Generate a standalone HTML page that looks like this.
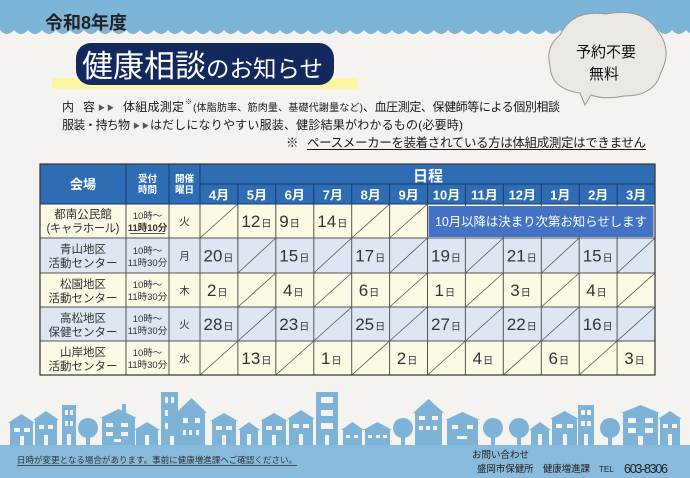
<!DOCTYPE html>
<html><head><meta charset="utf-8"><style>
html,body{margin:0;padding:0;background:#f4f3ef;}
svg{display:block;}
text{font-family:"Liberation Sans","Noto Sans CJK JP",sans-serif;}
</style></head><body>
<svg width="690" height="478" viewBox="0 0 690 478" xmlns="http://www.w3.org/2000/svg">
<rect x="0" y="0" width="690" height="478" fill="#f4f3ef"/>
<path d="M0 0 H690 V30 H0 Z" fill="#7db5d9"/>
<path d="M0 30 Q7 38 14 30 Q21 38 28 30 Q35 38 42 30 Q49 38 56 30 Q63 38 70 30 Q77 38 84 30 Q91 38 98 30 Q105 38 112 30 Q119 38 126 30 Q133 38 140 30 Q147 38 154 30 Q161 38 168 30 Q175 38 182 30 Q189 38 196 30 Q203 38 210 30 Q217 38 224 30 Q231 38 238 30 Q245 38 252 30 Q259 38 266 30 Q273 38 280 30 Q287 38 294 30 Q301 38 308 30 Q315 38 322 30 Q329 38 336 30 Q343 38 350 30 Q357 38 364 30 Q371 38 378 30 Q385 38 392 30 Q399 38 406 30 Q413 38 420 30 Q427 38 434 30 Q441 38 448 30 Q455 38 462 30 Q469 38 476 30 Q483 38 490 30 Q497 38 504 30 Q511 38 518 30 Q525 38 532 30 Q539 38 546 30 Q553 38 560 30 Q567 38 574 30 Q581 38 588 30 Q595 38 602 30 Q609 38 616 30 Q623 38 630 30 Q637 38 644 30 Q651 38 658 30 Q665 38 672 30 Q679 38 686 30 Q693 38 700 30 Z" fill="#7db5d9"/>

<text x="45" y="29" font-size="18" font-weight="bold" fill="#222">令和8年度</text>

<rect x="52" y="78" width="306" height="11" fill="#fbf6a3"/>
<rect x="76" y="43" width="258" height="42" rx="15" fill="#13295d"/>
<text x="82" y="77" fill="#fff" stroke="#13295d" stroke-width="8" stroke-linejoin="round" paint-order="stroke"><tspan font-size="31">健康相談</tspan><tspan font-size="23.5">のお知らせ</tspan></text>

<path d="M560 35 Q572 9 606 14 Q642 7 657 30 Q673 50 661 72 Q655 96 624 96 Q604 100 591 95 L585 105 L580 93 Q551 89 550 66 Q545 47 560 35 Z" fill="#ece8e3" stroke="#9a9692" stroke-width="1"/>
<text x="606" y="57" font-size="15" text-anchor="middle" fill="#111">予約不要</text>
<text x="604" y="79" font-size="15" text-anchor="middle" fill="#111">無料</text>

<text y="111" font-size="12" fill="#1a1a1a"><tspan x="62">内</tspan><tspan x="83">容</tspan><tspan x="98" y="110" font-size="7" fill="#555">▶ ▶</tspan><tspan x="123" y="111" textLength="61">体組成測定</tspan><tspan x="185" y="104" font-size="7">※</tspan><tspan x="193" y="111" font-size="10" textLength="170">(体脂肪率、筋肉量、基礎代謝量など)</tspan><tspan x="363" textLength="197">、血圧測定、保健師等による個別相談</tspan></text>
<text y="129" font-size="12" fill="#1a1a1a"><tspan x="62" textLength="68">服装・持ち物</tspan><tspan x="133" y="128" font-size="7" fill="#555">▶ ▶</tspan><tspan x="150" y="129" textLength="313">はだしになりやすい服装、健診結果がわかるもの(必要時)</tspan></text>
<text y="147" font-size="12.5" fill="#1a1a1a"><tspan x="286">※</tspan><tspan x="307" textLength="339">ペースメーカーを装着されている方は体組成測定はできません</tspan></text>
<rect x="307" y="149" width="339" height="1" fill="#1a1a1a"/>

<rect x="40" y="164" width="615" height="40" fill="#2e6db4"/>
<rect x="40" y="204" width="615" height="34" fill="#fcf9e4"/>
<rect x="40" y="238" width="615" height="35" fill="#dce7f3"/>
<rect x="40" y="273" width="615" height="34" fill="#fcf9e4"/>
<rect x="40" y="307" width="615" height="34" fill="#dce7f3"/>
<rect x="40" y="341" width="615" height="34" fill="#fcf9e4"/>

<g stroke="#1b3c6a" stroke-width="1">
<line x1="126" y1="164" x2="126" y2="204"/><line x1="169" y1="164" x2="169" y2="204"/><line x1="200" y1="164" x2="200" y2="204"/>
<line x1="200" y1="184" x2="655" y2="184"/>
<line x1="237.9" y1="184" x2="237.9" y2="204"/><line x1="275.8" y1="184" x2="275.8" y2="204"/><line x1="313.8" y1="184" x2="313.8" y2="204"/><line x1="351.7" y1="184" x2="351.7" y2="204"/><line x1="389.6" y1="184" x2="389.6" y2="204"/><line x1="427.5" y1="184" x2="427.5" y2="204"/><line x1="465.4" y1="184" x2="465.4" y2="204"/><line x1="503.3" y1="184" x2="503.3" y2="204"/><line x1="541.3" y1="184" x2="541.3" y2="204"/><line x1="579.2" y1="184" x2="579.2" y2="204"/><line x1="617.1" y1="184" x2="617.1" y2="204"/>
</g>
<g stroke="#555" stroke-width="1">
<line x1="40" y1="238" x2="655" y2="238"/><line x1="40" y1="273" x2="655" y2="273"/><line x1="40" y1="307" x2="655" y2="307"/><line x1="40" y1="341" x2="655" y2="341"/>
<line x1="126" y1="204" x2="126" y2="375"/><line x1="169" y1="204" x2="169" y2="375"/><line x1="200" y1="204" x2="200" y2="375"/>
<line x1="237.9" y1="204" x2="237.9" y2="375"/><line x1="275.8" y1="204" x2="275.8" y2="375"/><line x1="313.8" y1="204" x2="313.8" y2="375"/><line x1="351.7" y1="204" x2="351.7" y2="375"/><line x1="389.6" y1="204" x2="389.6" y2="375"/><line x1="427.5" y1="204" x2="427.5" y2="375"/><line x1="465.4" y1="204" x2="465.4" y2="375"/><line x1="503.3" y1="204" x2="503.3" y2="375"/><line x1="541.3" y1="204" x2="541.3" y2="375"/><line x1="579.2" y1="204" x2="579.2" y2="375"/><line x1="617.1" y1="204" x2="617.1" y2="375"/>
</g>
<g stroke="#555" stroke-width="0.8">
<line x1="200" y1="238" x2="237.9" y2="204"/><line x1="351.7" y1="238" x2="389.6" y2="204"/><line x1="389.6" y1="238" x2="427.5" y2="204"/>
<line x1="237.9" y1="273" x2="275.8" y2="238"/><line x1="313.8" y1="273" x2="351.7" y2="238"/><line x1="389.6" y1="273" x2="427.5" y2="238"/><line x1="465.4" y1="273" x2="503.3" y2="238"/><line x1="541.3" y1="273" x2="579.2" y2="238"/><line x1="617.1" y1="273" x2="655" y2="238"/>
<line x1="237.9" y1="307" x2="275.8" y2="273"/><line x1="313.8" y1="307" x2="351.7" y2="273"/><line x1="389.6" y1="307" x2="427.5" y2="273"/><line x1="465.4" y1="307" x2="503.3" y2="273"/><line x1="541.3" y1="307" x2="579.2" y2="273"/><line x1="617.1" y1="307" x2="655" y2="273"/>
<line x1="237.9" y1="341" x2="275.8" y2="307"/><line x1="313.8" y1="341" x2="351.7" y2="307"/><line x1="389.6" y1="341" x2="427.5" y2="307"/><line x1="465.4" y1="341" x2="503.3" y2="307"/><line x1="541.3" y1="341" x2="579.2" y2="307"/><line x1="617.1" y1="341" x2="655" y2="307"/>
<line x1="200" y1="375" x2="237.9" y2="341"/><line x1="275.8" y1="375" x2="313.8" y2="341"/><line x1="351.7" y1="375" x2="389.6" y2="341"/><line x1="427.5" y1="375" x2="465.4" y2="341"/><line x1="503.3" y1="375" x2="541.3" y2="341"/><line x1="579.2" y1="375" x2="617.1" y2="341"/>
</g>
<rect x="40" y="164" width="615" height="211" fill="none" stroke="#333" stroke-width="1.2"/>
<line x1="40" y1="204" x2="655" y2="204" stroke="#1b3c6a" stroke-width="1"/>

<rect x="428.5" y="206" width="225" height="31" fill="#4472c4"/>
<text x="435" y="226" font-size="12.5" fill="#fff" textLength="212">10月以降は決まり次第お知らせします</text>

<g fill="#fff" font-weight="bold">
<text x="83" y="189" font-size="13" text-anchor="middle">会場</text>
<text x="147.5" y="182" font-size="9.5" text-anchor="middle">受付</text>
<text x="147.5" y="193" font-size="9.5" text-anchor="middle">時間</text>
<text x="184.5" y="182" font-size="9.5" text-anchor="middle">開催</text>
<text x="184.5" y="193" font-size="9.5" text-anchor="middle">曜日</text>
<text x="428" y="181" font-size="15" text-anchor="middle">日程</text>
<g font-size="13" text-anchor="middle">
<text x="219" y="199.5">4月</text><text x="256.9" y="199.5">5月</text><text x="294.8" y="199.5">6月</text><text x="332.8" y="199.5">7月</text><text x="370.7" y="199.5">8月</text><text x="408.6" y="199.5">9月</text><text x="446.5" y="199.5">10月</text><text x="484.4" y="199.5">11月</text><text x="522.3" y="199.5">12月</text><text x="560.3" y="199.5">1月</text><text x="598.2" y="199.5">2月</text><text x="636.1" y="199.5">3月</text>
</g>
</g>

<g fill="#333" font-size="11.5" text-anchor="middle">
<text x="83" y="218">都南公民館</text>
<text x="83" y="232" textLength="73">(キャラホール)</text>
<text x="83" y="253">青山地区</text><text x="83" y="267">活動センター</text>
<text x="83" y="288">松園地区</text><text x="83" y="302">活動センター</text>
<text x="83" y="322">高松地区</text><text x="83" y="336">保健センター</text>
<text x="83" y="356">山岸地区</text><text x="83" y="370">活動センター</text>
</g>
<g fill="#333" font-size="9.5" text-anchor="middle">
<text x="147.5" y="219">10時～</text><text x="147.5" y="231" font-weight="bold">11時10分</text>
<text x="147.5" y="254">10時～</text><text x="147.5" y="266">11時30分</text>
<text x="147.5" y="288">10時～</text><text x="147.5" y="300">11時30分</text>
<text x="147.5" y="322">10時～</text><text x="147.5" y="334">11時30分</text>
<text x="147.5" y="356">10時～</text><text x="147.5" y="368">11時30分</text>
</g>
<rect x="130" y="233" width="35" height="0.8" fill="#333"/>
<g fill="#333" font-size="10.5" text-anchor="middle">
<text x="184.5" y="225">火</text><text x="184.5" y="259.5">月</text><text x="184.5" y="294">木</text><text x="184.5" y="328">火</text><text x="184.5" y="362">水</text>
</g>

<g fill="#333" font-size="17">
<text x="241.4" y="227">12<tspan font-size="10" dx="1">日</tspan></text>
<text x="279.3" y="227">9<tspan font-size="10" dx="1">日</tspan></text>
<text x="317.3" y="227">14<tspan font-size="10" dx="1">日</tspan></text>

<text x="203.5" y="261.5">20<tspan font-size="10" dx="1">日</tspan></text>
<text x="279.3" y="261.5">15<tspan font-size="10" dx="1">日</tspan></text>
<text x="355.2" y="261.5">17<tspan font-size="10" dx="1">日</tspan></text>
<text x="431" y="261.5">19<tspan font-size="10" dx="1">日</tspan></text>
<text x="506.8" y="261.5">21<tspan font-size="10" dx="1">日</tspan></text>
<text x="582.7" y="261.5">15<tspan font-size="10" dx="1">日</tspan></text>

<text x="207" y="296">2<tspan font-size="10" dx="1">日</tspan></text>
<text x="283" y="296">4<tspan font-size="10" dx="1">日</tspan></text>
<text x="358.7" y="296">6<tspan font-size="10" dx="1">日</tspan></text>
<text x="434.5" y="296">1<tspan font-size="10" dx="1">日</tspan></text>
<text x="510.3" y="296">3<tspan font-size="10" dx="1">日</tspan></text>
<text x="586.2" y="296">4<tspan font-size="10" dx="1">日</tspan></text>

<text x="203.5" y="330">28<tspan font-size="10" dx="1">日</tspan></text>
<text x="279.3" y="330">23<tspan font-size="10" dx="1">日</tspan></text>
<text x="355.2" y="330">25<tspan font-size="10" dx="1">日</tspan></text>
<text x="431" y="330">27<tspan font-size="10" dx="1">日</tspan></text>
<text x="506.8" y="330">22<tspan font-size="10" dx="1">日</tspan></text>
<text x="582.7" y="330">16<tspan font-size="10" dx="1">日</tspan></text>

<text x="241.4" y="364">13<tspan font-size="10" dx="1">日</tspan></text>
<text x="321" y="364">1<tspan font-size="10" dx="1">日</tspan></text>
<text x="396.8" y="364">2<tspan font-size="10" dx="1">日</tspan></text>
<text x="472.6" y="364">4<tspan font-size="10" dx="1">日</tspan></text>
<text x="548.5" y="364">6<tspan font-size="10" dx="1">日</tspan></text>
<text x="624.3" y="364">3<tspan font-size="10" dx="1">日</tspan></text>
</g>

<g fill="#7db3d7">
<polygon points="8,423 21.5,414 35,423"/><rect x="10" y="423" width="23" height="22"/>
<polygon points="33,420 46,411 59,420"/><rect x="35" y="420" width="22" height="25"/>
<rect x="62" y="405" width="14" height="40"/>
<circle cx="88" cy="428" r="10"/><rect x="86" y="430" width="4" height="15"/>
<polygon points="100,418 118.5,409 137,418"/><rect x="122" y="404" width="4" height="10"/><rect x="102" y="418" width="33" height="27"/>
<polygon points="134,430 147,422 160,430"/><rect x="136" y="430" width="22" height="15"/>
<rect x="161" y="392" width="17" height="53"/>
<polygon points="176,413 191.5,398 207,413"/><rect x="178" y="413" width="27" height="32"/>
<polygon points="210,421 224,413 238,421"/><rect x="212" y="421" width="24" height="24"/>
<polygon points="238,430 249,422 260,430"/><rect x="240" y="430" width="18" height="15"/>
<polygon points="260,421 274,413 288,421"/><rect x="262" y="421" width="24" height="24"/>
<polygon points="287,419 301,410 315,419"/><rect x="289" y="419" width="24" height="26"/>
<rect x="316" y="392" width="22" height="53"/>
<polygon points="341,430 352.5,422 364,430"/><rect x="343" y="430" width="19" height="15"/>
<polygon points="363,430 377.5,422 392,430"/><rect x="365" y="430" width="25" height="15"/>
<circle cx="403" cy="428" r="10"/><rect x="401" y="430" width="4" height="15"/>
<polygon points="413,413 428.5,399 444,413"/><rect x="415" y="413" width="27" height="32"/>
<polygon points="445,420 462.5,412 480,420"/><rect x="447" y="420" width="31" height="25"/>
<circle cx="493" cy="428" r="10"/><rect x="491" y="430" width="4" height="15"/>
<circle cx="519" cy="428" r="10"/><rect x="517" y="430" width="4" height="15"/>
<polygon points="529,430 540,422 551,430"/><rect x="531" y="430" width="18" height="15"/>
<polygon points="550,419 564.5,411 579,419"/><rect x="552" y="419" width="25" height="26"/>
<rect x="578" y="405" width="16" height="40"/>
<circle cx="610" cy="428" r="10"/><rect x="608" y="430" width="4" height="15"/>
<polygon points="621,413 640.5,405 660,413"/><rect x="623" y="413" width="35" height="32"/>
<polygon points="658,419 670,411 682,419"/><rect x="660" y="419" width="20" height="26"/>
</g>
<g fill="#f4f3ef">
<rect x="14" y="428" width="6" height="4"/><rect x="24" y="428" width="6" height="4"/><rect x="20" y="436" width="4" height="9"/>
<rect x="39" y="425" width="5" height="4"/><rect x="48" y="425" width="5" height="4"/><rect x="44" y="435" width="4" height="10"/>
<rect x="65" y="410" width="3" height="5"/><rect x="70" y="410" width="3" height="5"/><rect x="65" y="421" width="3" height="5"/><rect x="70" y="421" width="3" height="5"/><rect x="67" y="434" width="4" height="11"/>
<rect x="106" y="423" width="7" height="4"/><rect x="121" y="423" width="7" height="4"/><rect x="106" y="432" width="7" height="4"/><rect x="121" y="432" width="7" height="4"/><rect x="114" y="439" width="7" height="3"/>
<rect x="145" y="435" width="4" height="10"/>
<rect x="165" y="397" width="3" height="6"/><rect x="171" y="397" width="3" height="6"/><rect x="165" y="410" width="3" height="6"/><rect x="165" y="423" width="3" height="6"/><rect x="170" y="436" width="4" height="9"/>
<rect x="183" y="418" width="5" height="5"/><rect x="195" y="418" width="5" height="5"/><rect x="183" y="430" width="3" height="5"/><rect x="189" y="430" width="3" height="5"/><rect x="196" y="430" width="3" height="5"/>
<rect x="216" y="426" width="6" height="4"/><rect x="226" y="426" width="6" height="4"/><rect x="222" y="435" width="4" height="10"/>
<rect x="247" y="434" width="4" height="11"/>
<rect x="266" y="426" width="6" height="4"/><rect x="276" y="426" width="6" height="4"/><rect x="272" y="435" width="4" height="10"/>
<rect x="293" y="424" width="6" height="4"/><rect x="303" y="424" width="6" height="4"/><rect x="299" y="434" width="4" height="11"/>
<rect x="321" y="397" width="12" height="6"/><rect x="321" y="410" width="12" height="6"/><rect x="321" y="423" width="12" height="6"/><rect x="325" y="435" width="4" height="10"/>
<rect x="346" y="435" width="4" height="3"/><rect x="354" y="435" width="4" height="3"/>
<rect x="368" y="435" width="4" height="3"/><rect x="376" y="435" width="4" height="3"/><rect x="383" y="435" width="4" height="3"/>
<rect x="419" y="416" width="6" height="4"/><rect x="432" y="416" width="6" height="4"/><rect x="419" y="426" width="4" height="4"/><rect x="426" y="426" width="4" height="4"/><rect x="433" y="426" width="4" height="4"/>
<rect x="452" y="425" width="6" height="4"/><rect x="467" y="425" width="6" height="4"/><rect x="457" y="436" width="10" height="3"/>
<rect x="538" y="434" width="4" height="11"/>
<rect x="556" y="424" width="6" height="4"/><rect x="567" y="424" width="6" height="4"/><rect x="563" y="434" width="4" height="11"/>
<rect x="581" y="410" width="4" height="5"/><rect x="587" y="410" width="4" height="5"/><rect x="581" y="421" width="4" height="5"/><rect x="587" y="421" width="4" height="5"/><rect x="584" y="434" width="4" height="11"/>
<rect x="628" y="418" width="8" height="5"/><rect x="645" y="418" width="8" height="5"/><rect x="628" y="428" width="8" height="5"/><rect x="645" y="428" width="8" height="5"/><rect x="638" y="436" width="5" height="9"/>
<rect x="663" y="424" width="5" height="4"/><rect x="672" y="424" width="5" height="4"/><rect x="668" y="434" width="4" height="11"/>
</g>
<rect x="0" y="445" width="690" height="33" fill="#87badb"/>

<text x="17" y="463" font-size="8.5" fill="#333" textLength="280">日時が変更となる場合があります。事前に健康増進課へご確認ください。</text>
<rect x="17" y="465" width="280" height="0.8" fill="#333"/>
<text x="472" y="458" font-size="9.5" fill="#222">お問い合わせ</text>
<text x="477" y="472" font-size="9.5" fill="#222" textLength="113">盛岡市保健所　健康増進課</text>
<text x="599" y="472" font-size="8" fill="#222">TEL</text>
<text x="624" y="473" font-size="12.5" fill="#222" textLength="44">603-8306</text>
</svg>
</body></html>
